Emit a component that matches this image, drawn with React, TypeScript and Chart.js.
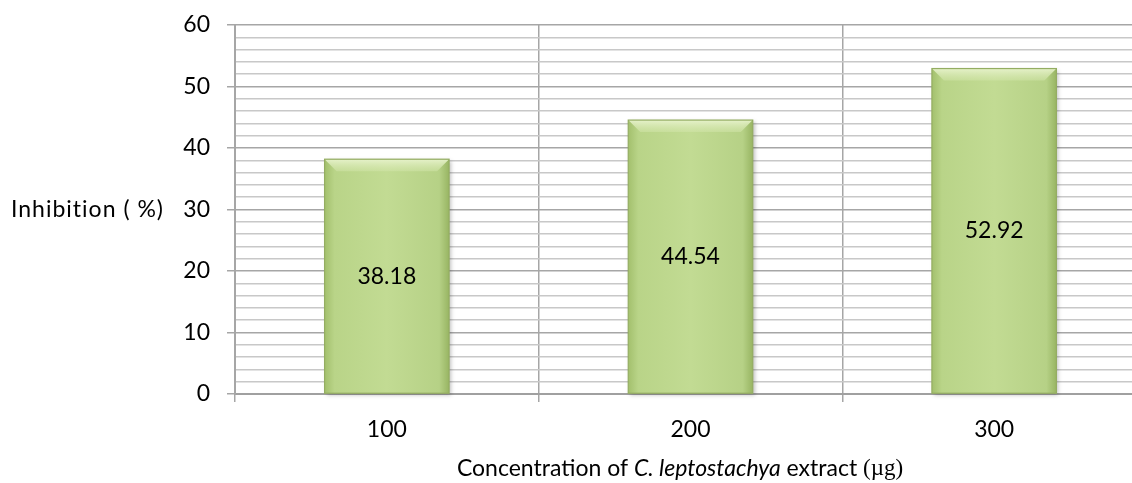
import React, { useEffect, useRef } from "react";
import { Chart, registerables } from "chart.js";

Chart.register(...registerables);

const categories = ["100", "200", "300"];
const inhibition = [38.18, 44.54, 52.92];
const yTickLabels = [0, 10, 20, 30, 40, 50, 60];
const yAxisTitle = "Inhibition ( %)";
const xTitleParts = [
  { text: "Concentration of ", style: "normal", family: "Lato" },
  { text: "C. leptostachya", style: "italic", family: "Lato" },
  { text: " extract ", style: "normal", family: "Lato" },
  { text: "(\u00b5g)", style: "normal", family: "Liberation Serif" },
];

const FONT = "Lato";
const FS = 23;

const decorPlugin = {
  id: "decor",
  afterDatasetsDraw(chart: any) {
    const ctx = chart.ctx;
    const meta = chart.getDatasetMeta(0);
    meta.data.forEach((bar: any, i: number) => {
      const { x, y, base, width } = bar.getProps(["x", "y", "base", "width"], true);
      const l = x - width / 2;
      const r = x + width / 2;
      const bev = 12;
      ctx.save();
      ctx.shadowColor = "rgba(0,0,0,0.25)";
      ctx.shadowBlur = 4;
      ctx.shadowOffsetX = 2;
      ctx.shadowOffsetY = 2;
      const hg = ctx.createLinearGradient(l, 0, r, 0);
      hg.addColorStop(0, "#a3c06d");
      hg.addColorStop(0.08, "#b9d488");
      hg.addColorStop(0.5, "#c2db93");
      hg.addColorStop(0.92, "#b6d186");
      hg.addColorStop(1, "#98b563");
      ctx.fillStyle = hg;
      ctx.fillRect(l, y, width, base - y);
      ctx.shadowColor = "rgba(0,0,0,0)";
      ctx.beginPath();
      ctx.moveTo(l, y);
      ctx.lineTo(r, y);
      ctx.lineTo(r - bev, y + bev);
      ctx.lineTo(l + bev, y + bev);
      ctx.closePath();
      const g = ctx.createLinearGradient(0, y, 0, y + bev);
      g.addColorStop(0, "rgba(232,243,205,0.95)");
      g.addColorStop(1, "rgba(210,229,170,0.5)");
      ctx.fillStyle = g;
      ctx.fill();
      ctx.strokeStyle = "#94ad62";
      ctx.lineWidth = 1.2;
      ctx.strokeRect(l, y, width, base - y);
      ctx.fillStyle = "#000";
      ctx.font = `${FS}px ${FONT}`;
      ctx.textAlign = "center";
      ctx.textBaseline = "middle";
      ctx.fillText(String(inhibition[i]), x, (y + base) / 2);
      ctx.restore();
    });
  },
  afterDraw(chart: any) {
    const ctx = chart.ctx;
    ctx.save();
    ctx.fillStyle = "#000";
    ctx.textBaseline = "middle";
    ctx.font = `${FS}px ${FONT}`;
    ctx.textAlign = "left";
    const y30 = chart.scales.y.getPixelForValue(30);
    (ctx as any).letterSpacing = "1px";
    ctx.fillText(yAxisTitle, 11, y30);
    (ctx as any).letterSpacing = "0px";
    let total = 0;
    const widths = xTitleParts.map((p) => {
      ctx.font = `${p.style} ${FS}px ${p.family}`;
      const w = ctx.measureText(p.text).width;
      total += w;
      return w;
    });
    let cx = 680 - total / 2;
    const ty = 469;
    xTitleParts.forEach((p, i) => {
      ctx.font = `${p.style} ${FS}px ${p.family}`;
      ctx.fillText(p.text, cx, ty);
      cx += widths[i];
    });
    ctx.restore();
  },
};

export default function App() {
  const ref = useRef<HTMLCanvasElement | null>(null);
  useEffect(() => {
    document.body.style.margin = "0";
    const canvas = ref.current!;
    const chart = new Chart(canvas, {
      type: "bar",
      data: {
        labels: categories,
        datasets: [
          {
            data: inhibition,
            backgroundColor: "rgba(0,0,0,0)",
            borderWidth: 0,
            barPercentage: 0.41,
            categoryPercentage: 1,
          },
        ],
      },
      options: {
        animation: false,
        responsive: false,
        maintainAspectRatio: false,
        layout: { padding: { top: 25, left: 0, right: 0, bottom: 0 } },
        plugins: { legend: { display: false }, tooltip: { enabled: false } },
        scales: {
          x: {
            offset: true,
            grid: {
              offset: true,
              color: "#a6a6a6",
              lineWidth: 1.5,
              tickLength: 8,
              tickColor: "#a6a6a6",
            },
            border: { color: "#a0a0a0", width: 2 },
            ticks: { color: "#000", font: { family: FONT, size: FS }, padding: 14 },
            afterFit: (s: any) => {
              s.height = 89;
              s.paddingLeft = 0;
              s.paddingRight = 0;
            },
          },
          y: {
            min: 0,
            max: 60,
            grid: {
              color: (c: any) => (c.tick && c.tick.value % 10 === 0 ? "#a6a6a6" : "#c8c8c8"),
              lineWidth: 1.5,
              tickLength: 8,
              tickColor: (c: any) => (c.tick && c.tick.value % 10 === 0 ? "#a6a6a6" : "rgba(0,0,0,0)"),
            },
            border: { color: "#a6a6a6", width: 2 },
            ticks: {
              stepSize: 2,
              autoSkip: false,
              color: "#000",
              font: { family: FONT, size: FS },
              padding: 17,
              callback: (v: any) => (yTickLabels.includes(Number(v)) ? String(v) : ""),
            },
            afterFit: (s: any) => {
              s.width = 235;
              s.paddingTop = 0;
              s.paddingBottom = 0;
            },
          },
        },
      },
      plugins: [decorPlugin],
    });
    return () => chart.destroy();
  }, []);
  return (
    <div style={{ width: 1132, height: 483, overflow: "hidden", background: "#fff" }}>
      <canvas ref={ref} width={1146} height={483} style={{ display: "block" }} />
    </div>
  );
}
